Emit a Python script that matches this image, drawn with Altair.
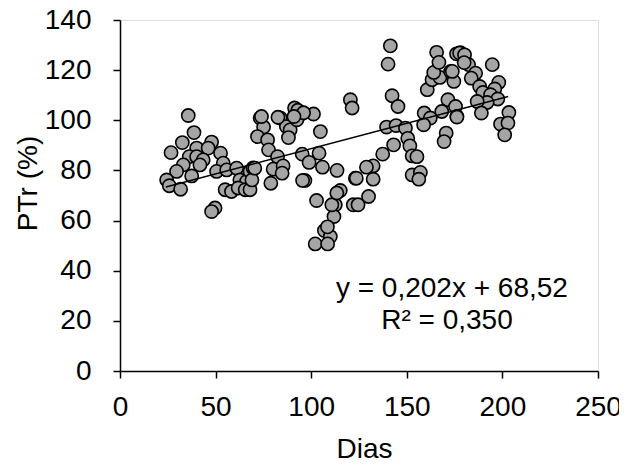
import altair as alt
import pandas as pd

dias = [35.7, 38.7, 32.6, 26.7, 40.1, 47.9, 46.1, 52.6, 36.2, 40.1, 43.5, 33.1, 41.8, 54.0,
        29.6, 37.5, 50.5, 55.8, 24.4, 25.8, 31.7, 61.0, 55.0, 58.3, 62.7, 66.2, 68.0, 69.6,
        49.7, 47.9, 61.8, 65.5, 68.0, 69.0,
        73.3, 75.1, 71.9, 77.2, 77.7, 82.4, 83.8, 87.0, 89.0, 88.1, 91.3, 94.2, 92.5, 101.2,
        104.8, 95.3, 98.9, 104.1, 105.9, 113.5, 70.5, 80.1, 85.3, 84.8, 78.9, 96.7, 102.8,
        112.6, 111.9, 115.2, 106.9, 110.0, 102.1, 108.6, 120.5, 121.4, 123.1, 122.0, 124.5,
        74.0, 82.6, 93.0, 96.0, 91.0, 95.5, 108.5, 110.8, 113.4,
        141.4, 140.2, 142.3, 145.4, 139.4, 144.4, 149.3, 143.1, 150.5, 151.6, 137.4, 152.8,
        155.3, 132.4, 128.9, 123.6, 132.4, 152.8, 157.1, 156.3, 160.7, 163.2, 167.3, 164.1,
        165.6, 166.8, 172.9, 174.6, 171.5, 159.1, 162.3, 168.3, 158.8, 170.6, 169.5, 175.5,
        176.2, 130.0, 176.0, 178.0,
        177.6, 180.2, 182.3, 186.0, 183.7, 194.7, 188.1, 189.8, 198.1, 196.0, 193.8, 197.6,
        192.0, 186.8, 189.0, 203.4, 199.0, 202.9, 201.2, 176.2, 173.8, 180.0]

ptr = [101.9, 95.1, 91.1, 87.1, 88.9, 91.3, 88.9, 86.9, 85.5, 85.5, 84.2, 82.2, 82.2, 82.9,
       79.6, 77.8, 79.6, 80.2, 76.2, 73.9, 72.5, 80.9, 72.3, 71.6, 76.2, 75.6, 79.6, 81.0,
       65.0, 63.6, 73.0, 72.3, 72.3, 76.2,
       100.9, 97.3, 93.5, 92.2, 88.2, 85.5, 100.9, 97.5, 96.2, 93.1, 104.9, 102.2, 100.2, 102.5,
       95.5, 86.5, 83.2, 86.9, 81.3, 80.0, 80.9, 80.5, 81.8, 78.9, 74.9, 76.0, 68.0,
       66.3, 61.6, 72.0, 56.0, 53.6, 50.7, 50.7, 108.2, 104.9, 76.9, 66.3, 66.3,
       101.5, 101.2, 104.0, 103.0, 101.5, 76.0, 57.5, 66.3, 71.0,
       129.7, 122.4, 109.8, 105.5, 97.3, 97.9, 96.9, 90.2, 92.8, 89.8, 86.5, 85.8,
       85.5, 81.8, 81.3, 76.9, 76.5, 78.2, 79.2, 76.5, 112.2, 116.2, 117.1, 119.1,
       127.1, 123.1, 119.5, 115.5, 108.2, 102.9, 100.9, 103.5, 98.2, 94.9, 91.5, 105.5,
       101.5, 69.6, 126.5, 127.0,
       126.8, 126.1, 122.2, 118.8, 116.8, 122.2, 113.5, 111.1, 115.1, 112.5, 110.2, 108.5,
       107.1, 107.5, 102.9, 103.1, 98.5, 98.9, 94.2, 101.3, 119.5, 123.0]

slope = 0.202
intercept = 68.52
trend_x = [24.0, 203.0]

eq_labels = ["y = 0,202x + 68,52", "R² = 0,350"]
eq_x = [173.6, 171.0]
eq_y = [29.6, 16.8]

pts = pd.DataFrame({"Dias": dias, "PTr": ptr})
trend = pd.DataFrame({"Dias": trend_x, "PTr": [slope * v + intercept for v in trend_x]})
eq = pd.DataFrame({"x": eq_x, "y": eq_y, "t": eq_labels})

FONT = "Liberation Sans"
FS = 28

xscale = alt.Scale(domain=[0, 250], nice=False, zero=True)
yscale = alt.Scale(domain=[0, 140], nice=False, zero=True)

xaxis = alt.Axis(values=[0, 50, 100, 150, 200, 250], title="Dias", grid=False,
                 domainColor="black", domainWidth=1.5, tickColor="black", tickWidth=1.5,
                 tickSize=7, labelFont=FONT, labelFontSize=FS, labelColor="black",
                 labelPadding=15, labelFlush=False, labelOverlap=False,
                 titleFont=FONT, titleFontSize=FS,
                 titleFontWeight="normal", titleColor="black", titleX=244, titleY=86,
                 titleBaseline="alphabetic", titleAlign="center")
yaxis = alt.Axis(values=[0, 20, 40, 60, 80, 100, 120, 140], title="PTr (%)", grid=False,
                 domainColor="black", domainWidth=1.5, tickColor="black", tickWidth=1.5,
                 tickSize=7, labelFont=FONT, labelFontSize=FS, labelColor="black",
                 labelPadding=22, labelFlush=False, labelOverlap=False,
                 titleFont=FONT, titleFontSize=FS,
                 titleFontWeight="normal", titleColor="black", titleX=-92, titleY=163,
                 titleAngle=270, titleBaseline="middle", titleAlign="center")

points = alt.Chart(pts).mark_point(shape="circle", filled=True, fill="#a5a5a5",
                                   stroke="black", strokeWidth=1.6, size=175, opacity=1).encode(
    x=alt.X("Dias:Q", scale=xscale, axis=xaxis),
    y=alt.Y("PTr:Q", scale=yscale, axis=yaxis),
)

line = alt.Chart(trend).mark_line(color="black", strokeWidth=1.5).encode(
    x=alt.X("Dias:Q", scale=xscale),
    y=alt.Y("PTr:Q", scale=yscale),
)

text = alt.Chart(eq).mark_text(font=FONT, fontSize=FS, color="black", align="center",
                               baseline="alphabetic").encode(
    x=alt.X("x:Q", scale=xscale),
    y=alt.Y("y:Q", scale=yscale),
    text="t:N",
)

chart = alt.layer(points, line, text).properties(
    width=478, height=351,
    autosize=alt.AutoSizeParams(type="none"),
    padding={"left": 112, "top": 12, "right": 21, "bottom": 95},
).configure_view(stroke=None).configure(background="white")

chart.save("out.html", embed_options={"renderer": "svg", "actions": False})
